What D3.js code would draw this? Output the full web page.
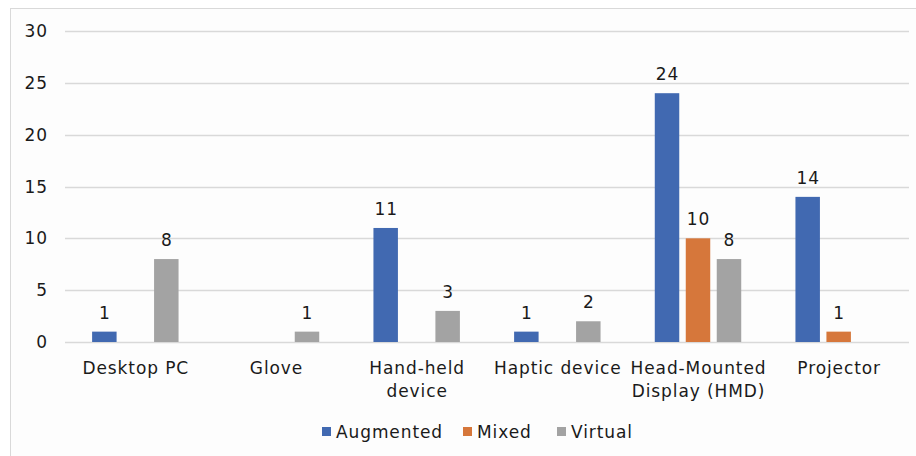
<!DOCTYPE html>
<html><head><meta charset="utf-8">
<script src="https://cdn.jsdelivr.net/npm/d3@7"></script>
<style>
html,body{margin:0;padding:0;background:#fff;}
svg{display:block;font-family:"DejaVu Sans",Verdana,sans-serif;}
svg text{letter-spacing:0.9px;}
</style></head>
<body>
<svg id="c" width="916" height="456"></svg>
<script>
const categories = [["Desktop PC"],["Glove"],["Hand-held","device"],["Haptic device"],["Head-Mounted","Display (HMD)"],["Projector"]];
const series = ["Augmented","Mixed","Virtual"];
const augmented = [1,0,11,1,24,14];
const mixed = [0,0,0,0,10,1];
const virtual = [8,1,3,2,8,0];
const yTicks = [0,5,10,15,20,25,30];
const colors = ["#4169b1","#d6773b","#a3a3a3"];

(function(){
const values = [augmented, mixed, virtual];
const FS = 17, TC = "#1a1a1a";
const svg = d3.select("#c");
svg.append("rect").attr("x",10.5).attr("y",8.5).attr("width",916).attr("height",460)
  .attr("fill","#fdfdfd").attr("stroke","#d9d9d9");

const pLeft=65,pRight=909,pTop=31,pBottom=342;
const x0 = d3.scaleBand().domain(d3.range(categories.length)).range([pLeft,pRight]);
const x1 = d3.scaleBand().domain(series).range([0,x0.bandwidth()]).paddingInner(0.21).paddingOuter(0.875);
const y = d3.scaleLinear().domain([0,30]).range([pBottom,pTop]);

const g = svg.append("g");
g.selectAll("line.grid").data(yTicks).join("line")
  .attr("x1",pLeft).attr("x2",pRight).attr("y1",d=>Math.round(y(d))+0.5).attr("y2",d=>Math.round(y(d))+0.5)
  .attr("stroke","#d9d9d9").attr("stroke-width",1.3);
g.selectAll("text.yt").data(yTicks).join("text")
  .attr("x",48).attr("y",d=>y(d)).attr("dy","0.36em").attr("text-anchor","end")
  .attr("font-size",FS).attr("fill",TC).text(d=>d);

series.forEach((s,si)=>{
  const data = values[si].map((v,i)=>({v,i}));
  g.selectAll("rect.s"+si).data(data).join("rect")
    .attr("x",d=>x0(d.i)+x1(s)).attr("width",x1.bandwidth())
    .attr("y",d=>y(d.v)).attr("height",d=>y(0)-y(d.v)).attr("fill",colors[si]);
  g.selectAll("text.l"+si).data(data.filter(d=>d.v>0)).join("text")
    .attr("x",d=>x0(d.i)+x1(s)+x1.bandwidth()/2+0.5).attr("y",d=>y(d.v)-13)
    .attr("text-anchor","middle").attr("font-size",FS).attr("fill",TC).text(d=>d.v);
});

categories.forEach((lines,i)=>{
  const cx = x0(i)+x0.bandwidth()/2+0.5;
  const t = g.append("text").attr("x",cx).attr("y",374)
    .attr("text-anchor","middle").attr("font-size",FS).attr("fill",TC);
  lines.forEach((ln,k)=>t.append("tspan").attr("x",cx).attr("dy",k?23:0).text(ln));
});

const legX = [322,463,557];
series.forEach((s,si)=>{
  g.append("rect").attr("x",legX[si]).attr("y",427).attr("width",9).attr("height",9).attr("fill",colors[si]);
  g.append("text").attr("x",legX[si]+14).attr("y",438).attr("font-size",FS).attr("fill",TC).text(s);
});
})();
</script>
</body></html>
